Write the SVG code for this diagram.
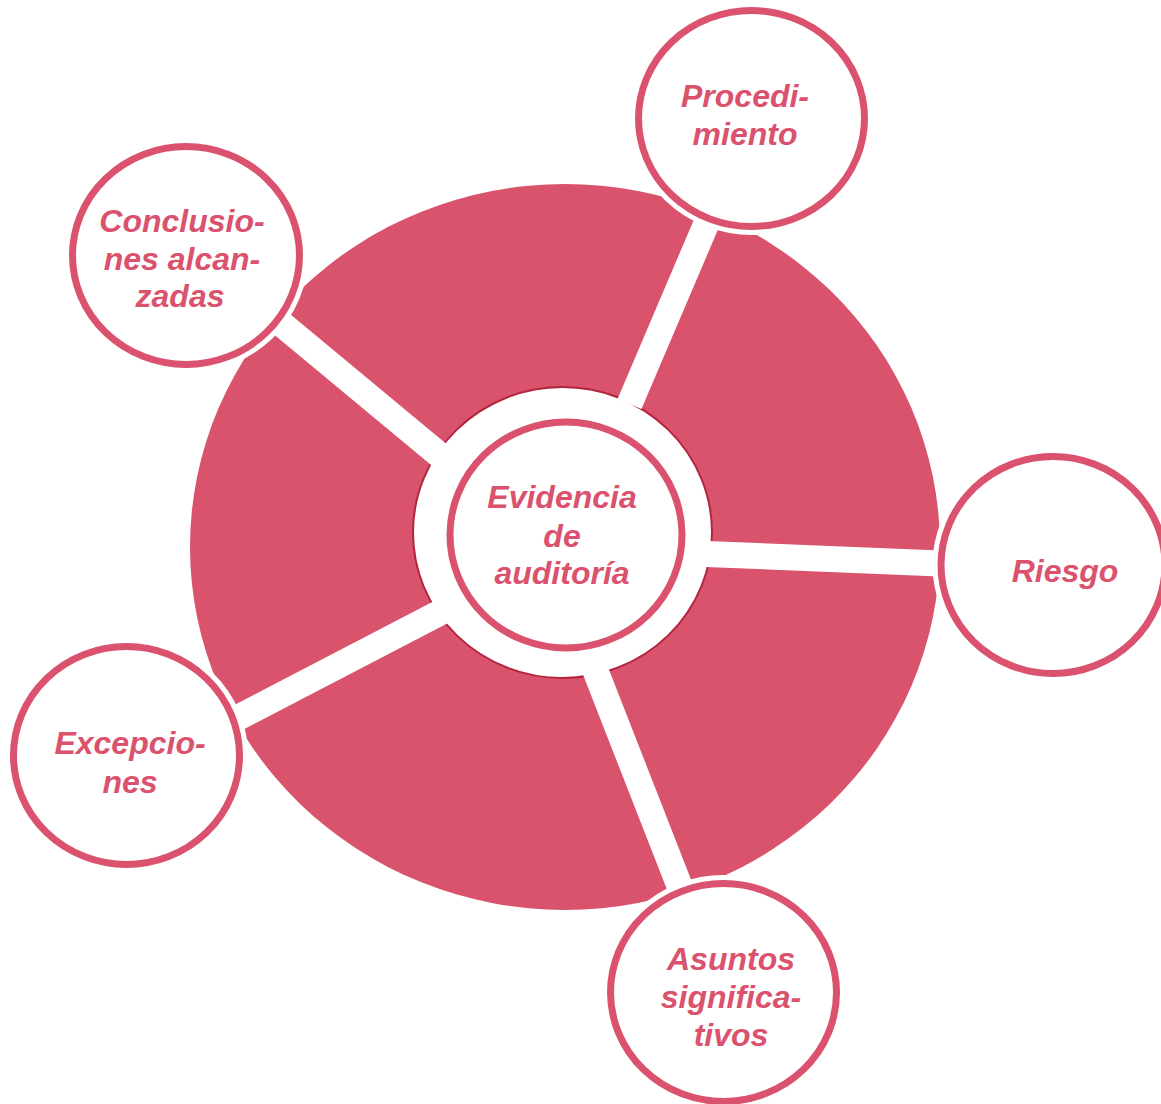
<svg xmlns="http://www.w3.org/2000/svg" width="1161" height="1104" viewBox="0 0 1161 1104">
<style>
.lbl{font-family:"Liberation Sans",Arial,sans-serif;font-weight:bold;font-style:italic;font-size:32px;fill:#DA526D;text-anchor:middle}
.node{fill:#fff;stroke:#DA526D;stroke-width:7}
.halo{fill:none;stroke:#fff;stroke-width:17}
.band{stroke:#fff;stroke-width:26;stroke-linecap:butt}
</style>
<rect width="1161" height="1104" fill="#fff"/>
<g id="hub">
<ellipse cx="565" cy="547" rx="375" ry="363" fill="#DA536D"/>
<ellipse cx="562.5" cy="532.5" rx="149.5" ry="145.5" fill="#fff" stroke="#B3253F" stroke-width="2"/>
</g>
<g id="connectors">
<line class="band" x1="629.5" y1="404" x2="713" y2="208"/>
<line class="band" x1="700" y1="553.7" x2="952" y2="564"/>
<line class="band" x1="594" y1="667" x2="687" y2="905"/>
<line class="band" x1="445" y1="610" x2="220" y2="727"/>
<line class="band" x1="443" y1="458" x2="266" y2="311"/>
</g>
<g id="center">
<ellipse cx="566" cy="535" rx="116" ry="113" class="node" stroke-width="6"/>
<text class="lbl" x="562" y="508">Evidencia</text>
<text class="lbl" x="562" y="547">de</text>
<text class="lbl" x="562" y="584">auditoría</text>
</g>
<g id="procedimiento">
<ellipse cx="751.5" cy="118.5" rx="113" ry="108" class="halo"/>
<ellipse cx="751.5" cy="118.5" rx="113" ry="108" class="node"/>
<text class="lbl" x="745" y="107">Procedi-</text>
<text class="lbl" x="745" y="145">miento</text>
</g>
<g id="conclusiones">
<ellipse cx="186" cy="255.5" rx="113.5" ry="109" class="halo"/>
<ellipse cx="186" cy="255.5" rx="113.5" ry="109" class="node"/>
<text class="lbl" x="182" y="232">Conclusio-</text>
<text class="lbl" x="182" y="270">nes alcan-</text>
<text class="lbl" x="180" y="307">zadas</text>
</g>
<g id="riesgo">
<ellipse cx="1053" cy="565" rx="112" ry="108.5" class="halo"/>
<ellipse cx="1053" cy="565" rx="112" ry="108.5" class="node"/>
<text class="lbl" x="1065" y="582">Riesgo</text>
</g>
<g id="excepciones">
<ellipse cx="126.5" cy="755.5" rx="113" ry="109" class="halo"/>
<ellipse cx="126.5" cy="755.5" rx="113" ry="109" class="node"/>
<text class="lbl" x="130" y="754">Excepcio-</text>
<text class="lbl" x="130" y="793">nes</text>
</g>
<g id="asuntos">
<ellipse cx="723.5" cy="992.5" rx="113" ry="109" class="halo"/>
<ellipse cx="723.5" cy="992.5" rx="113" ry="109" class="node"/>
<text class="lbl" x="731" y="970">Asuntos</text>
<text class="lbl" x="731" y="1008">significa-</text>
<text class="lbl" x="731" y="1046">tivos</text>
</g>
</svg>
